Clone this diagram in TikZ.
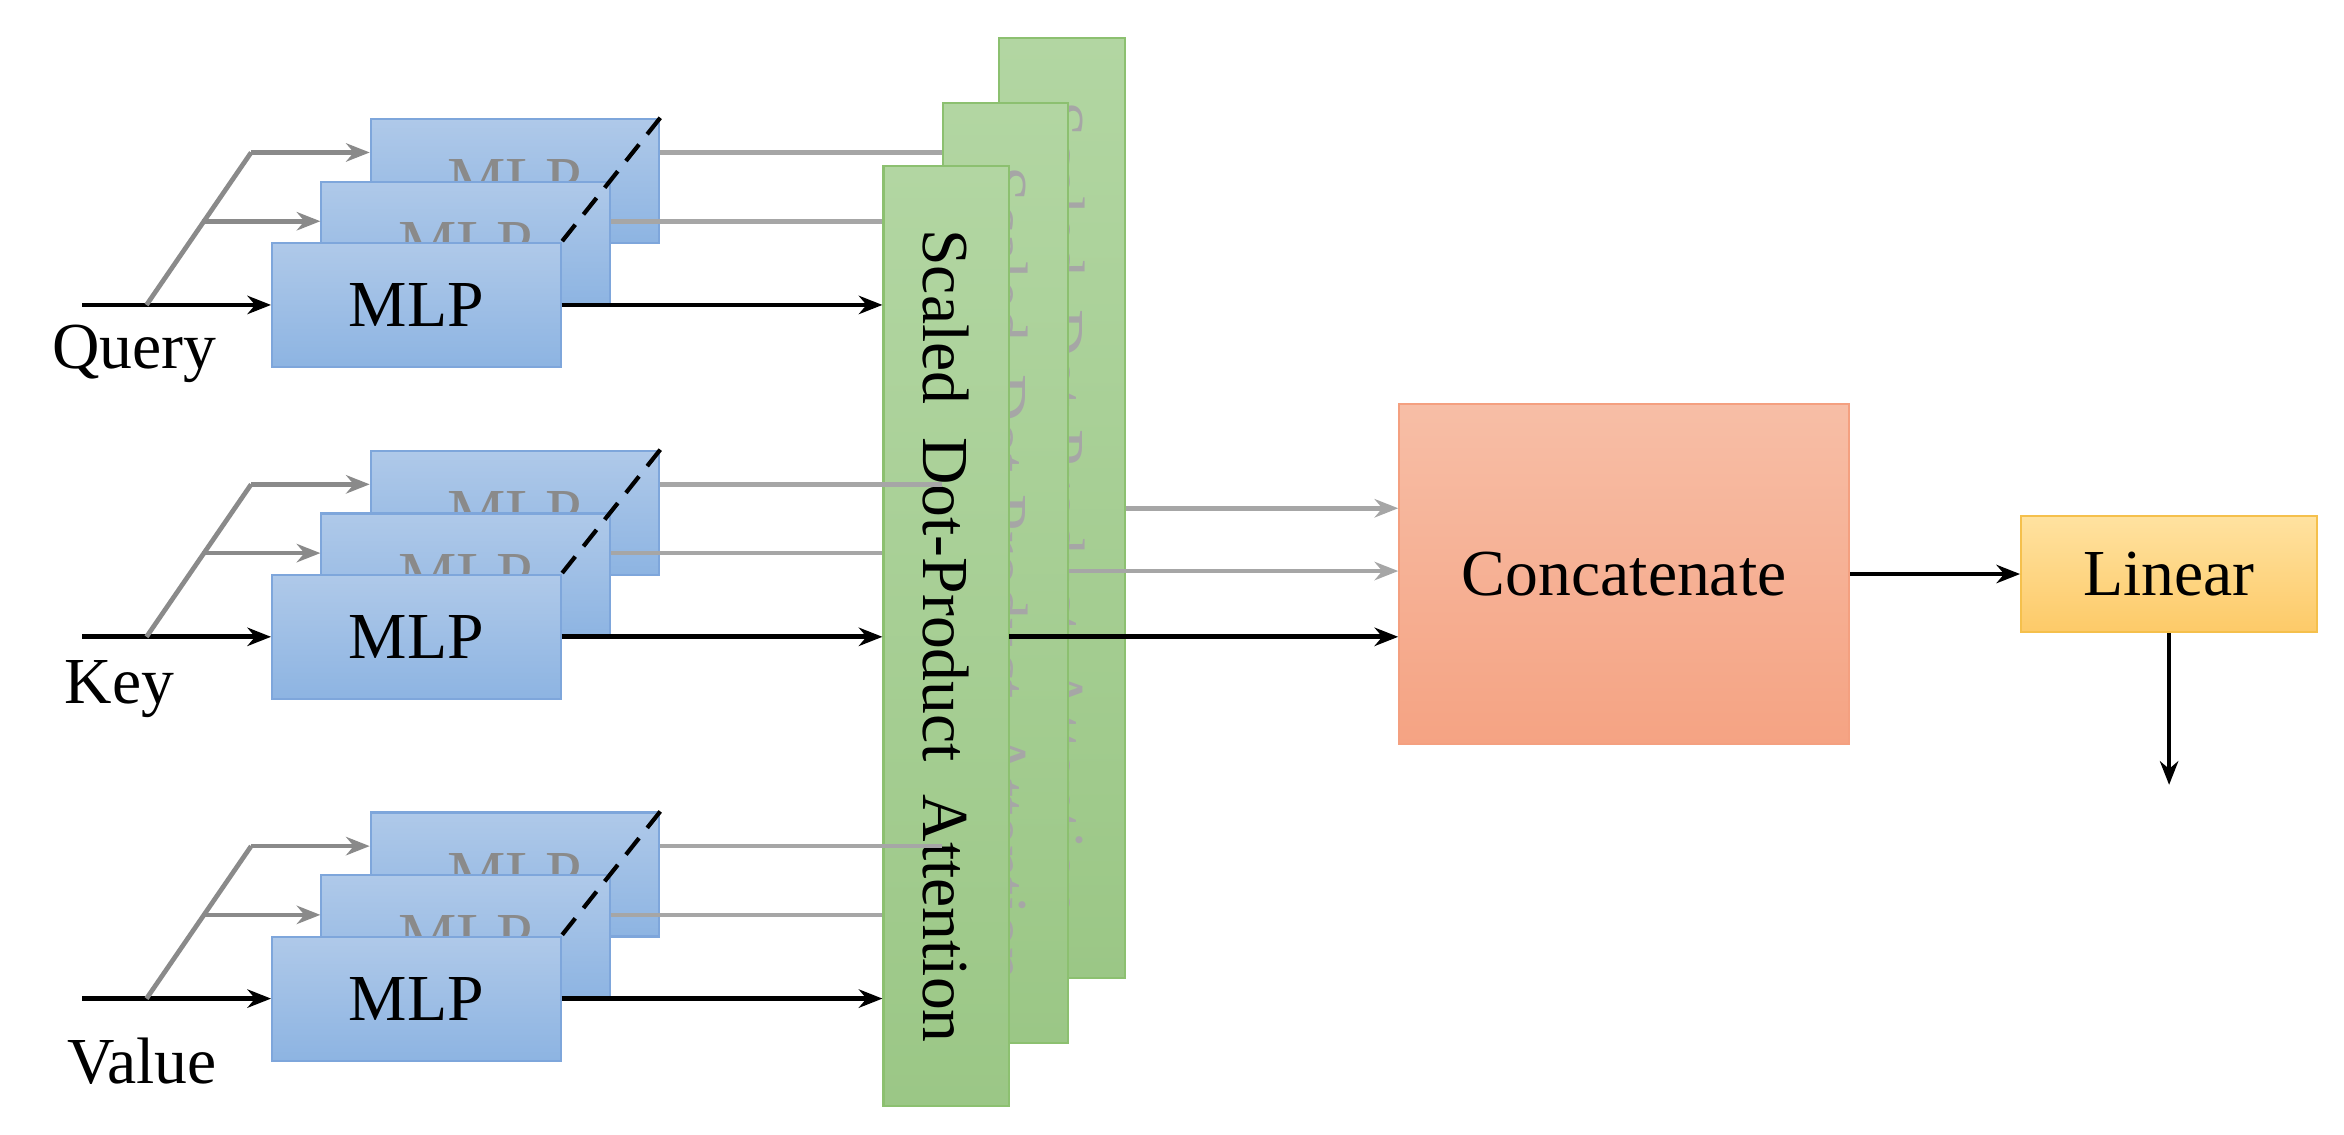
\documentclass[tikz,border=0pt]{standalone}
\usepackage{fontspec}
\setmainfont{Liberation Serif}
\usetikzlibrary{arrows.meta}
\definecolor{bT}{HTML}{AFC9E9}\definecolor{bB}{HTML}{8DB4E2}\definecolor{bE}{HTML}{7EA6DB}
\definecolor{gT}{HTML}{B2D6A2}\definecolor{gB}{HTML}{9BC786}\definecolor{gE}{HTML}{8CC070}
\definecolor{cT}{HTML}{F7BEA6}\definecolor{cB}{HTML}{F5A383}\definecolor{cE}{HTML}{F4A080}
\definecolor{yT}{HTML}{FFE2A0}\definecolor{yB}{HTML}{FDCA68}\definecolor{yE}{HTML}{F5C04C}
\definecolor{lg}{HTML}{A6A6A6}\definecolor{dg}{HTML}{8A8A8A}
\begin{document}
\begin{tikzpicture}[x=0.02cm,y=-0.02cm,
  font=\fontsize{25}{30}\selectfont,
  mlp/.style={draw=bE,line width=0.8pt,top color=bT,bottom color=bB,minimum width=3.86cm,minimum height=1.66cm,inner sep=0pt},
  sdpa/.style={draw=gE,line width=0.8pt,top color=gT,bottom color=gB,minimum width=1.68cm,minimum height=12.58cm,inner sep=0pt},
  arr/.style={-{Stealth[length=9pt,width=7pt]},line width=1.8pt},
  blk/.style={arr,black},
  gry/.style={arr,dg},
  gln/.style={line width=1.8pt,lg},
  garr/.style={arr,lg}]
\useasboundingbox (0,0) rectangle (1568,759);
% green attention boxes
\node[sdpa] (g3) at (710.5,340) {};
\node[rotate=-90,text=lg] at (g3) {Scaled\ \ Dot-Product\ \ Attention};
\node[sdpa] (g2) at (672.5,383.5) {};
\node[rotate=-90,text=lg] at (g2) {Scaled\ \ Dot-Product\ \ Attention};
\node[sdpa] (g1) at (633,425.5) {};
\node[rotate=-90] at (g1) {Scaled\ \ Dot-Product\ \ Attention};
% MLP groups
\foreach \g/\y/\lab/\lx/\ly in {q/204/Query/90/237, k/426/Key/80/461, v/668/Value/95/710}{
  \node[mlp,text=dg] (\g3) at (344.5,\y-83) {MLP};
  \node[mlp,text=dg] (\g2) at (311.5,\y-41) {MLP};
  \node[mlp] (\g1) at (278.5,\y) {MLP};
  \draw[dashed,line width=1.6pt,dash pattern=on 8pt off 5pt] (\g3.north east) -- (\g1.north east);
  \node (\g lab) at (\lx,\ly) {\lab};
  \coordinate (\g in) at (55,\y);
  \coordinate (\g br) at (98,\y);
  \coordinate (\g b2) at (135,\y-56);
  \coordinate (\g b3) at (168,\y-102);
  \draw[blk] (\g in) -- (\g1.west);
  \draw[line width=1.8pt,dg] (\g br) -- (\g b3);
  \draw[gry] (\g b3) -- (\g b3 -| \g3.west);
  \draw[gry] (\g b2) -- (\g b2 -| \g2.west);
  \draw[blk] (\g1.east) -- (\g1.east -| g1.west);
  \draw[gln] (\g3.east |- \g b3) -- (\g b3 -| g2.west);
  \draw[gln] (\g2.east |- \g b2) -- (\g b2 -| g1.west);
}
% concatenate and linear
\node[draw=cE,line width=0.8pt,top color=cT,bottom color=cB,minimum width=6.02cm,minimum height=4.56cm] (cat) at (1086.5,384) {Concatenate};
\node[draw=yE,line width=0.8pt,top color=yT,bottom color=yB,minimum width=3.96cm,minimum height=1.56cm] (lin) at (1451,384) {Linear};
\coordinate (a3) at (753,340);
\coordinate (a2) at (715,382);
\coordinate (a1) at (675,426);
\coordinate (out) at (1451,525);
\draw[garr] (a3) -- (a3 -| cat.west);
\draw[garr] (a2) -- (a2 -| cat.west);
\draw[blk] (a1) -- (a1 -| cat.west);
\draw[blk] (cat.east |- lin.west) -- (lin.west);
\draw[blk] (lin.south) -- (out);
\end{tikzpicture}
\end{document}
